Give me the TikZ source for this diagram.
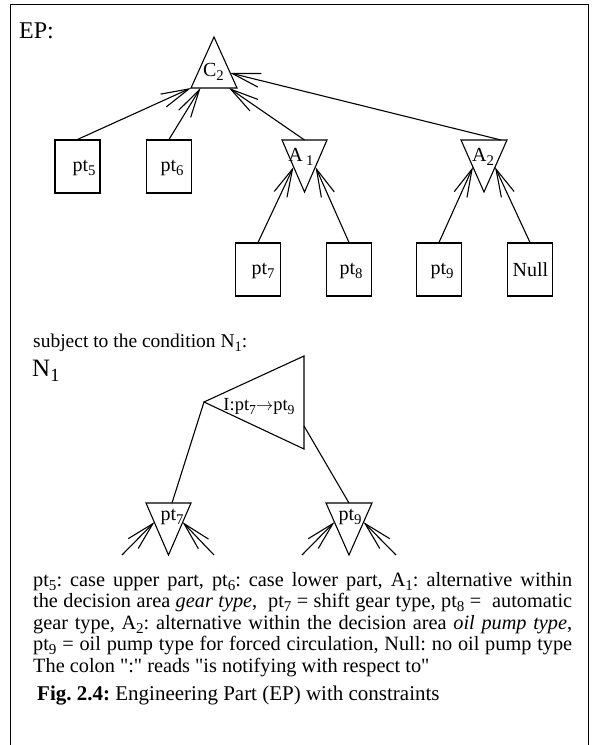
\documentclass[tikz,border=0pt]{standalone}
\usepackage{fontspec}
\usepackage{graphicx}
\setmainfont{Liberation Serif}
\usetikzlibrary{arrows.meta}
\newcommand\subs[1]{\raisebox{-0.22em}{\scalebox{0.74}{#1}}}
\frenchspacing
\begin{document}
\begin{tikzpicture}[x=1pt,y=-1pt,
  conn/.style={line width=1.1pt},
  barb/.style={conn,-{Straight Barb[length=28pt,width=14pt]}},
  tri/.style={line width=1.1pt,line join=miter},
  box/.style={draw,line width=1.1pt,minimum width=45pt,minimum height=53pt,inner sep=0pt},
  lab/.style={font=\fontsize{20}{22}\selectfont,inner sep=0pt},
  txt/.style={font=\fontsize{20.3}{21.5}\selectfont,inner sep=0pt,anchor=base west},
]
\useasboundingbox (0,0) rectangle (592,745);
% frame
\draw[line width=1.2pt] (10.5,745) -- (10.5,4.5) -- (588.5,4.5) -- (588.5,745);

\node[txt,font=\fontsize{24}{26}\selectfont] (EP) at (19,38) {EP:};

% C2 triangle
\draw[tri] (214,37) coordinate (C2top) -- (237,88) coordinate (C2br) -- (191,88) coordinate (C2bl) -- cycle;
\node[lab] (C2) at (213.5,72) {C\subs{2}};
\coordinate (C2a) at (200.5,88);
\coordinate (C2b) at (229,88);
\coordinate (C2c) at (230.2,73);

% boxes
\node[box] (pt5) at (77.5,166.5) {};
\node[lab] (pt5l) at (84,168) {pt\subs{5}};
\node[box] (pt6) at (169,166.5) {};
\node[lab] (pt6l) at (172,168) {pt\subs{6}};
\node[box] (pt7) at (258,269.5) {};
\node[lab] (pt7l) at (263,271) {pt\subs{7}};
\node[box] (pt8) at (349,269.5) {};
\node[lab] (pt8l) at (351,271) {pt\subs{8}};
\node[box] (pt9) at (439,269.5) {};
\node[lab] (pt9l) at (442,271) {pt\subs{9}};
\node[box] (Null) at (530,269.5) {};
\node[lab] (Nulll) at (530.5,270) {Null};

% A1, A2
\draw[tri] (282,140) -- (327,140) -- (304.5,192) -- cycle;
\coordinate (A1t) at (304.5,140);
\coordinate (A1l) at (293.5,167);
\coordinate (A1r) at (315.5,167);
\node[lab] (A1) at (301,157) {A\,\subs{1}};
\draw[tri] (461,140) -- (507,140) -- (484,192) -- cycle;
\coordinate (A2t) at (501,140);
\coordinate (A2l) at (473,167);
\coordinate (A2r) at (495,167);
\node[lab] (A2) at (483,157) {A\subs{2}};

% connectors to C2
\draw[barb] (pt5.north) -- (C2bl);
\draw[barb] (pt6.north) -- (C2a);
\draw[barb] (A1t) -- (C2b);
\draw[barb] (A2t) -- (C2c);
% connectors to A1, A2
\draw[barb] (pt7.north) -- (A1l);
\draw[barb] (pt8.north) -- (A1r);
\draw[barb] (pt9.north) -- (A2l);
\draw[barb] (Null.north) -- (A2r);

% condition
\node[txt,font=\fontsize{19.5}{21}\selectfont] (subj) at (33,347) {subject to the condition N\subs{1}:};
\node[txt,font=\fontsize{25}{27}\selectfont] (N1) at (32,376) {N\subs{1}};

\draw[tri] (204,402) coordinate (Itip) -- (304,356) -- (304,449) -- cycle;
\coordinate (Iright) at (304,426);
\node[lab,anchor=base,font=\fontsize{18.5}{20}\selectfont] (Il) at (259,410) {I:pt\subs{7}$\rightarrow$pt\subs{9}};

\draw[tri] (146,503) -- (191,503) -- (168.5,555) -- cycle;
\coordinate (q7t) at (172,503);
\coordinate (q7l) at (154.5,522);
\coordinate (q7r) at (182.5,522);
\node[lab] (q7) at (172,517) {pt\subs{7}};
\draw[tri] (326,503) -- (372,503) -- (349,555) -- cycle;
\coordinate (q9t) at (349,503);
\coordinate (q9l) at (334.5,522);
\coordinate (q9r) at (363.5,522);
\node[lab] (q9) at (350,517) {pt\subs{9}};

\draw[conn] (Itip) -- (q7t);
\draw[conn] (Iright) -- (q9t);

\coordinate (f1) at (122,555);
\coordinate (f2) at (214,555);
\coordinate (f3) at (302,555);
\coordinate (f4) at (396,555);
\draw[barb] (f1) -- (q7l);
\draw[barb] (f2) -- (q7r);
\draw[barb] (f3) -- (q9l);
\draw[barb] (f4) -- (q9r);

% legend text
\node[txt] (l1) at (33,586) {\makebox[539pt][s]{pt\subs{5}: case upper part, pt\subs{6}: case lower part, A\subs{1}: alternative within}};
\node[txt] (l2) at (33,607.5) {\makebox[539pt][s]{the decision area \textit{gear type}, \ pt\subs{7} = shift gear type, pt\subs{8} = \ automatic}};
\node[txt] (l3) at (33,629) {\makebox[539pt][s]{gear type, A\subs{2}: alternative within the decision area \textit{oil pump type},}};
\node[txt] (l4) at (33,650.5) {\makebox[539pt][s]{pt\subs{9} = oil pump type for forced circulation, Null: no oil pump type}};
\node[txt] (l5) at (33,672) {The colon \textquotedbl:\textquotedbl{} reads \textquotedbl is notifying with respect to\textquotedbl};
\node[txt,font=\fontsize{21}{22}\selectfont] (cap) at (37,700) {\textbf{Fig. 2.4:} Engineering Part (EP) with constraints};
\end{tikzpicture}
\end{document}
